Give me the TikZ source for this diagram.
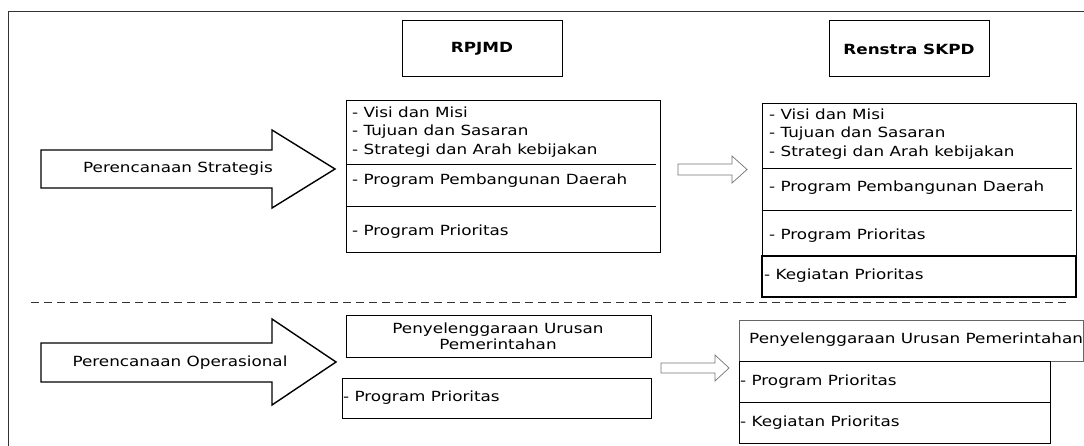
\documentclass[tikz,border=0pt]{standalone}
\usepackage{fontspec}
\setmainfont[FakeStretch=1.2]{DejaVu Sans}
\begin{document}
\begin{tikzpicture}[x=1pt,y=-1pt,
  txt/.style={inner sep=0pt, font=\fontsize{14}{18.5}\selectfont, text=black},
  lst/.style={txt, anchor=west, align=left},
  boxline/.style={draw=black, line width=1pt},
  hdr/.style={draw=black, line width=1pt, minimum width=160pt, minimum height=56pt,
              inner sep=0pt, font=\fontsize{14}{18}\selectfont\bfseries, text=black},
  bigarrow/.style={draw=black, line width=1.4pt, line join=miter},
  smallarrow/.style={draw=black!55, line width=0.7pt},
  sepline/.style={draw=black!80, line width=0.8pt, dash pattern=on 8pt off 5pt}]
\useasboundingbox (0,0) rectangle (1084,446);
% frame
\draw[line width=1.5pt, black!80] (1084,11.5) -- (8.5,11.5) -- (8.5,446);
% headers
\node[hdr] (rpjmd) at (482,49) {RPJMD};
\node[hdr] (renstra) at (909,49) {Renstra SKPD};
% upper big arrow
\draw[bigarrow] (41,150) -- (272,150) -- (272,130) -- (335,169) -- (272,208) -- (272,188) -- (41,188) -- cycle;
\node[txt] (strat) at (178,169) {Perencanaan Strategis};
% left upper box
\draw[boxline] (346,101) rectangle (660,253);
\draw[boxline] (346,165) -- (656,165);
\draw[boxline] (346,207) -- (656,207);
\node[lst] (l1) at (352,132) {- Visi dan Misi\\- Tujuan dan Sasaran\\- Strategi dan Arah kebijakan};
\node[lst] (l2) at (352,181) {- Program Pembangunan Daerah};
\node[lst] (l3) at (352,232) {- Program Prioritas};
% small upper arrow
\draw[smallarrow] (678,164) -- (732,164) -- (732,156) -- (747,169.5) -- (732,183) -- (732,175) -- (678,175) -- cycle;
% right upper box
\draw[boxline] (762,104) rectangle (1076,297);
\draw[boxline] (762,169) -- (1072,169);
\draw[boxline] (762,211) -- (1072,211);
\draw[draw=black, line width=1.4pt] (762,256) rectangle (1076,297);
\node[lst] (r1) at (769,134) {- Visi dan Misi\\- Tujuan dan Sasaran\\- Strategi dan Arah kebijakan};
\node[lst] (r2) at (769,188) {- Program Pembangunan Daerah};
\node[lst] (r3) at (769,236) {- Program Prioritas};
\node[lst] (r4) at (764,276) {- Kegiatan Prioritas};
% separator
\draw[sepline] (31,302.5) -- (1067,302.5);
% lower big arrow
\draw[bigarrow] (41,343) -- (272,343) -- (272,319) -- (336,362) -- (272,405) -- (272,382) -- (41,382) -- cycle;
\node[txt] (oper) at (180,363) {Perencanaan Operasional};
% lower left boxes
\draw[boxline] (346,315) rectangle (651,357);
\node[txt, align=center, font=\fontsize{14}{16}\selectfont] (pu1) at (498,336) {Penyelenggaraan Urusan\\Pemerintahan};
\draw[boxline] (342,378) rectangle (651,418);
\node[lst] (pp1) at (343,398) {- Program Prioritas};
% small lower arrow
\draw[smallarrow] (661,363) -- (715,363) -- (715,355) -- (729,368) -- (715,381) -- (715,373) -- (661,373) -- cycle;
% lower right boxes
\draw[draw=black!60, line width=0.8pt] (739,320) rectangle (1083,361);
\node[lst] (pu2) at (749,340) {Penyelenggaraan Urusan Pemerintahan};
\draw[boxline] (739,361) rectangle (1050,402);
\draw[boxline] (739,402) rectangle (1050,443);
\node[lst] (pp2) at (740,382) {- Program Prioritas};
\node[lst] (kp2) at (740,423) {- Kegiatan Prioritas};
\end{tikzpicture}
\end{document}
